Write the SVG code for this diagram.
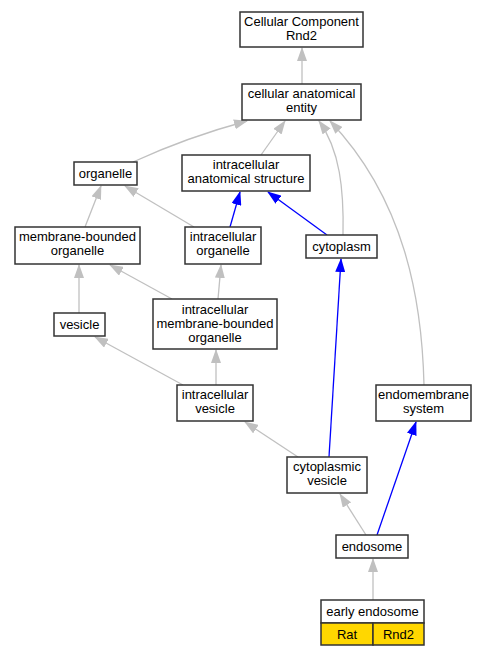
<svg xmlns="http://www.w3.org/2000/svg" width="491" height="656" viewBox="0 0 491 656">
<style>
.n rect{fill:#fff;stroke:#333;stroke-width:1.5}
text{font-family:"Liberation Sans",Arial,sans-serif;font-size:13px;text-anchor:middle;fill:#000}
.g{fill:none;stroke:#c0c0c0;stroke-width:1.3;marker-end:url(#ag)}
.b{fill:none;stroke:#0000ff;stroke-width:1.3;marker-end:url(#ab)}
</style>
<defs>
<marker id="ag" viewBox="0 0 14 10" refX="13" refY="5" markerWidth="14" markerHeight="10" markerUnits="userSpaceOnUse" orient="auto"><path d="M0,0 L14,5 L0,10 z" fill="#c0c0c0"/></marker>
<marker id="ab" viewBox="0 0 14 10" refX="13" refY="5" markerWidth="14" markerHeight="10" markerUnits="userSpaceOnUse" orient="auto"><path d="M0,0 L14,5 L0,10 z" fill="#0000ff"/></marker>
</defs>
<rect width="491" height="656" fill="#fff"/>
<g id="edges">
<path class="g" d="M302,84 L302,48"/>
<path class="g" d="M133,162 C170,145 210,131 247,121"/>
<path class="g" d="M261,155 L285,121"/>
<path class="g" d="M343,235 C344,190 340,150 319,121"/>
<path class="g" d="M424,385 C422,300 405,200 330,121"/>
<path class="g" d="M85,227 L101,186"/>
<path class="g" d="M194,227 L125,186"/>
<path class="b" d="M230,227 L240,192"/>
<path class="b" d="M327,235 L268,192"/>
<path class="g" d="M172,299 L110,265"/>
<path class="g" d="M218,299 L221,265"/>
<path class="g" d="M79,313 L79,265"/>
<path class="b" d="M329,457 L341,259"/>
<path class="g" d="M183,385 L95,337"/>
<path class="g" d="M216,385 L216,350"/>
<path class="g" d="M298,457 L245,422"/>
<path class="b" d="M377,535 L416,422"/>
<path class="g" d="M366,535 L340,494"/>
<path class="g" d="M373,600 L373,559"/>
</g>
<g id="cc" class="n"><rect x="240" y="12" width="123" height="35"/><text x="301.5" y="26">Cellular Component</text><text x="301.5" y="40">Rnd2</text></g>
<g id="cae" class="n"><rect x="242" y="84" width="119" height="36"/><text x="301.5" y="98">cellular anatomical</text><text x="301.5" y="112">entity</text></g>
<g id="organelle" class="n"><rect x="74" y="162" width="63" height="23"/><text x="105.5" y="178">organelle</text></g>
<g id="ias" class="n"><rect x="182" y="155" width="128" height="36"/><text x="246" y="169">intracellular</text><text x="246" y="183">anatomical structure</text></g>
<g id="mbo" class="n"><rect x="15" y="227" width="125" height="37"/><text x="77.5" y="241">membrane-bounded</text><text x="77.5" y="255">organelle</text></g>
<g id="io" class="n"><rect x="185" y="227" width="76" height="37"/><text x="223" y="241">intracellular</text><text x="223" y="255">organelle</text></g>
<g id="cytoplasm" class="n"><rect x="306" y="235" width="71" height="23"/><text x="341.5" y="251">cytoplasm</text></g>
<g id="vesicle" class="n"><rect x="54" y="313" width="51" height="23"/><text x="79.5" y="329">vesicle</text></g>
<g id="imbo" class="n"><rect x="153" y="299" width="124" height="50"/><text x="215" y="314">intracellular</text><text x="215" y="328">membrane-bounded</text><text x="215" y="342">organelle</text></g>
<g id="iv" class="n"><rect x="177" y="385" width="76" height="36"/><text x="215" y="399">intracellular</text><text x="215" y="413">vesicle</text></g>
<g id="ems" class="n"><rect x="376" y="385" width="95" height="36"/><text x="423.5" y="399">endomembrane</text><text x="423.5" y="413">system</text></g>
<g id="cv" class="n"><rect x="287" y="457" width="80" height="36"/><text x="327" y="471">cytoplasmic</text><text x="327" y="485">vesicle</text></g>
<g id="endosome" class="n"><rect x="336" y="535" width="72" height="23"/><text x="372" y="551">endosome</text></g>
<g id="early" class="n"><rect x="321" y="600" width="103" height="23"/><text x="372.5" y="616">early endosome</text>
<rect x="321" y="623" width="52" height="22" style="fill:#ffd700"/><rect x="373" y="623" width="51" height="22" style="fill:#ffd700"/><text x="347" y="639">Rat</text><text x="398.5" y="639">Rnd2</text></g>
</svg>
